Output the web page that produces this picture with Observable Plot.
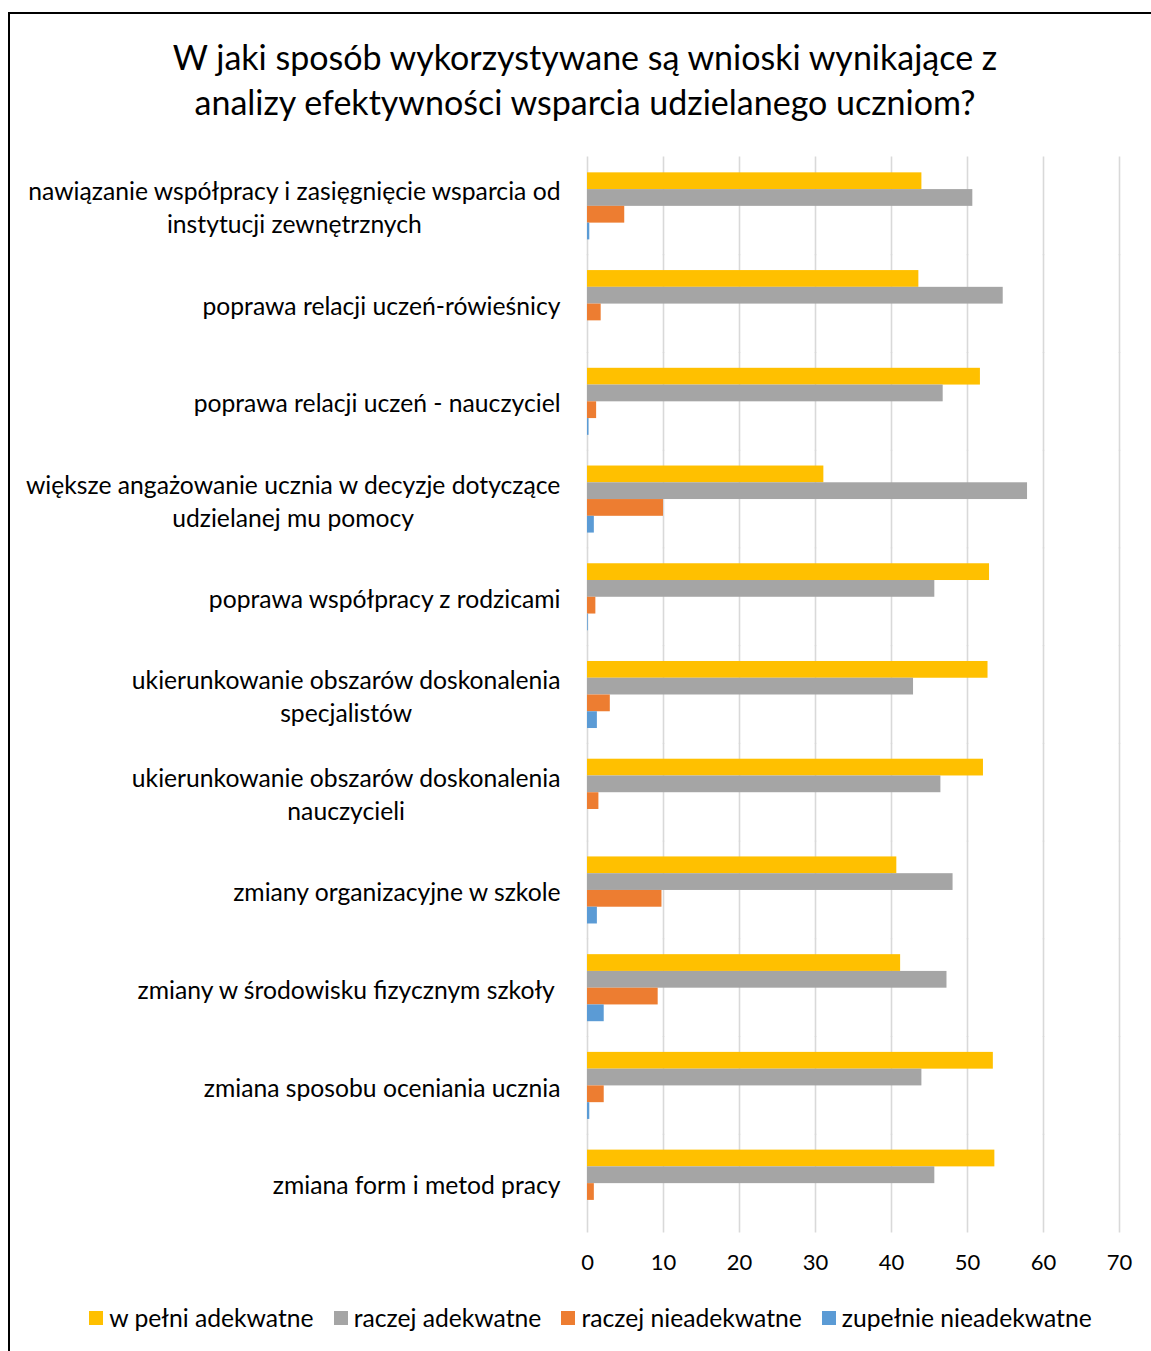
<!DOCTYPE html>
<html><head><meta charset="utf-8">
<script src="https://cdn.jsdelivr.net/npm/d3@7"></script>
<script src="https://cdn.jsdelivr.net/npm/@observablehq/plot@0.6"></script>
<style>
body{margin:0;background:#fff;}
#wrap{position:relative;width:1151px;height:1351px;overflow:hidden;font-family:Lato, sans-serif;color:#000;}
#frame{position:absolute;left:8px;top:12px;width:1200px;height:1400px;border:2px solid #000;box-sizing:border-box;}
#title{position:absolute;left:10px;width:1150px;top:34px;text-align:center;font-size:34px;line-height:45px;}
#chart{position:absolute;left:0;top:0;}
#legend{position:absolute;top:1303px;left:0;width:1181px;display:flex;justify-content:center;gap:20px;font-size:24.7px;line-height:30px;}
#legend .it{display:flex;align-items:center;gap:6px;}
#legend .sw{width:14px;height:14px;display:inline-block;}
</style></head>
<body>
<div id="wrap">
  <div id="frame"></div>
  <div id="title">W jaki sposób wykorzystywane są wnioski wynikające z<br>analizy efektywności wsparcia udzielanego uczniom?</div>
  <div id="chart"></div>
  <div id="legend"></div>
</div>
<script>
const categories = [
  "nawiązanie współpracy i zasięgnięcie wsparcia od\ninstytucji zewnętrznych",
  "poprawa relacji uczeń-rówieśnicy",
  "poprawa relacji uczeń - nauczyciel",
  "większe angażowanie ucznia w decyzje dotyczące\nudzielanej mu pomocy",
  "poprawa współpracy z rodzicami",
  "ukierunkowanie obszarów doskonalenia\nspecjalistów",
  "ukierunkowanie obszarów doskonalenia\nnauczycieli",
  "zmiany organizacyjne w szkole",
  "zmiany w środowisku fizycznym szkoły\u00A0",
  "zmiana sposobu oceniania ucznia",
  "zmiana form i metod pracy"
];
const series = ["w pełni adekwatne", "raczej adekwatne", "raczej nieadekwatne", "zupełnie nieadekwatne"];
const colors = ["#FFC000", "#A5A5A5", "#ED7D31", "#5B9BD5"];
const wPelniAdekwatne     = [44.0, 43.6, 51.7, 31.1, 52.9, 52.7, 52.1, 40.7, 41.2, 53.4, 53.6];
const raczejAdekwatne     = [50.7, 54.7, 46.8, 57.9, 45.7, 42.9, 46.5, 48.1, 47.3, 44.0, 45.7];
const raczejNieadekwatne  = [4.9, 1.8, 1.2, 10.0, 1.1, 3.0, 1.5, 9.8, 9.3, 2.2, 0.9];
const zupelnieNieadekwatne= [0.3, 0, 0.2, 0.9, 0.1, 1.3, 0, 1.3, 2.2, 0.3, 0];
const xTicks = [0, 10, 20, 30, 40, 50, 60, 70];

const seriesValues = [wPelniAdekwatne, raczejAdekwatne, raczejNieadekwatne, zupelnieNieadekwatne];
const data = categories.flatMap((c, i) => series.map((s, j) => ({category: c, series: s, value: seriesValues[j][i]})));

const W = 1151, H = 1290, mT = 157, mB = 58;
const pIn = 0.314, pOut = 0.157;
const step = (H - mT - mB) / (categories.length - pIn + 2 * pOut);
const halfGap = step * pIn / 2;

const chart = Plot.plot({
  width: W, height: H,
  marginLeft: 587, marginRight: 32, marginTop: mT, marginBottom: mB,
  style: {fontFamily: "Lato, sans-serif", fontSize: "22px", color: "#000", background: "transparent"},
  x: {domain: [0, 70], ticks: xTicks, label: null, tickSize: 0, tickPadding: 37},
  y: {domain: series, axis: null, padding: 0, round: false},
  fy: {domain: categories, paddingInner: pIn, paddingOuter: pOut, round: false, label: null, axis: null},
  color: {domain: series, range: colors},
  marks: [
    Plot.ruleX(xTicks, {stroke: "#D9D9D9", strokeWidth: 1.6, insetTop: -halfGap - 0.5, insetBottom: -halfGap - 0.5}),
    Plot.barX(data, {fy: "category", y: "series", x: "value", fill: "series"}),
    Plot.axisFy({anchor: "left", tickSize: 0, tickPadding: 27, fontSize: 24.7, lineHeight: 1.34, label: null})
  ]
});
document.getElementById("chart").append(chart);
chart.querySelectorAll('g[aria-label^="fy-axis"] text').forEach(t => {
  const tsp = t.querySelectorAll("tspan");
  if (tsp.length < 2) return;
  const w = t.getBBox().width;
  t.setAttribute("text-anchor", "middle");
  tsp.forEach(s => s.setAttribute("x", -w / 2));
});

const legend = document.getElementById("legend");
series.forEach((s, i) => {
  const it = document.createElement("div"); it.className = "it";
  const sw = document.createElement("span"); sw.className = "sw"; sw.style.background = colors[i];
  const tx = document.createElement("span"); tx.textContent = s;
  it.append(sw, tx); legend.append(it);
});
</script>
</body></html>
